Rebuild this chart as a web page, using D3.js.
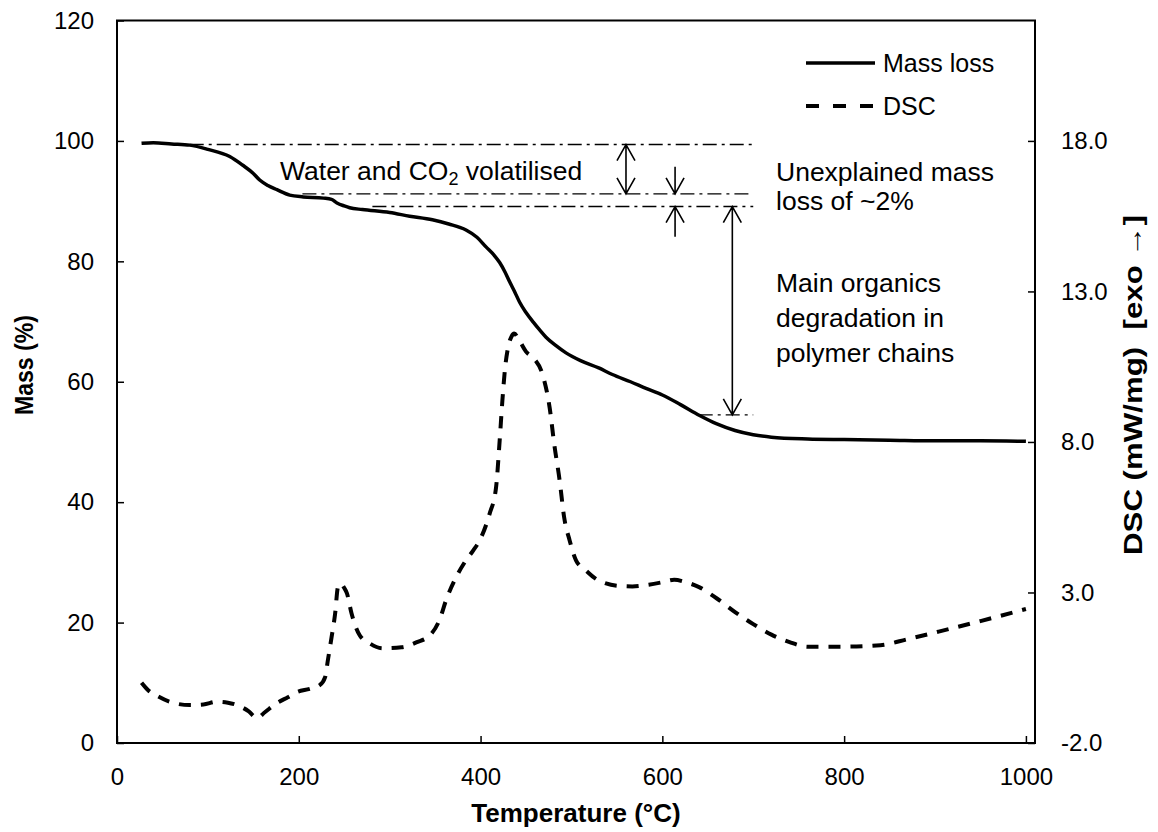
<!DOCTYPE html>
<html>
<head>
<meta charset="utf-8">
<script src="https://cdn.jsdelivr.net/npm/d3@7"></script>
<style>
  body { margin: 0; background: #fff; }
  svg text { font-family: Arial, "Liberation Sans", sans-serif; }
</style>
</head>
<body>
<svg class="canvas"></svg>
<script>
// Setting constants
const wWidth = 1158
const wHeight = 832

// Mass loss curve (Temperature °C, Mass %)
const massTemp = [27, 40, 60, 80, 100, 124, 138, 150, 157, 166, 176, 190, 205, 227, 236, 242, 250, 256, 270, 300,
    322, 347, 365, 384, 396, 406, 415, 421, 427, 432, 438, 443, 450, 458, 465, 472, 483, 494, 510, 530, 545, 565,
    582, 600, 620, 641, 660, 680, 700, 720, 760, 800, 850, 900, 950, 1000];
const massVal = [99.6, 99.7, 99.5, 99.3, 98.6, 97.4, 96.0, 94.6, 93.5, 92.6, 91.9, 91.0, 90.7, 90.5, 90.3, 89.7, 89.2, 88.9, 88.6, 88.1,
    87.5, 86.9, 86.2, 85.2, 84.0, 82.4, 81.0, 79.8, 78.2, 76.6, 74.8, 73.2, 71.5, 69.9, 68.6, 67.4, 66.0, 64.8, 63.5, 62.3, 61.2, 60.0,
    58.9, 57.8, 56.2, 54.4, 53.0, 51.9, 51.2, 50.8, 50.5, 50.4, 50.3, 50.2, 50.2, 50.1];

// DSC curve (Temperature °C, mW/mg)
const dscTemp = [27, 34, 45, 58, 80, 95, 110, 122, 132, 145, 154, 163, 176, 188, 198, 212, 223, 229, 232, 236,
    240, 243, 246, 250, 253, 258, 267, 278, 292, 313, 330, 345, 355, 362, 373, 384, 392, 399, 410, 417,
    421, 424, 427, 430, 434, 437, 443, 450, 459, 468, 476, 481, 487, 492, 498, 505, 516, 527, 538, 552,
    567, 585, 600, 613, 626, 641, 660, 680, 700, 720, 740, 760, 800, 840, 870, 904, 950, 1000];
const dscVal = [0.0, -0.24, -0.45, -0.63, -0.74, -0.72, -0.63, -0.66, -0.74, -0.95, -1.17, -0.97, -0.67, -0.48, -0.31, -0.2, -0.08, 0.19, 0.75, 1.5,
    2.3, 3.17, 3.3, 3.15, 2.97, 2.31, 1.58, 1.31, 1.15, 1.18, 1.35, 1.6, 2.1, 2.74, 3.5, 4.07, 4.4, 4.73, 5.62, 6.48,
    8.04, 9.37, 10.46, 11.1, 11.5, 11.6, 11.35, 11.0, 10.76, 10.26, 9.14, 7.94, 6.72, 5.49, 4.73, 4.07, 3.73, 3.45, 3.3, 3.22,
    3.2, 3.26, 3.34, 3.42, 3.34, 3.17, 2.8, 2.35, 1.95, 1.6, 1.35, 1.2, 1.2, 1.25, 1.45, 1.7, 2.05, 2.45];

// Tick labels
const xTicks = [0, 200, 400, 600, 800, 1000];
const massTicks = [0, 20, 40, 60, 80, 100, 120];
const dscTicks = [-2, 3, 8, 13, 18];

// Annotation guide lines: [from °C, to °C, mass %]
const guideLines = [[80, 700, 99.4], [204, 700, 91.2], [281, 700, 89.1], [640, 700, 54.5]];
// Arrows: [°C, from mass, to mass, head at start, head at end]
const arrows = [
    [560, 99.4, 91.2, true, true],
    [614, 95.7, 91.2, false, true],
    [614, 84.1, 89.1, false, true],
    [677, 89.1, 54.5, true, true]
];

// Plot area
const plot = {left: 117, right: 1035, top: 20.5, bottom: 743};

const svg = d3.select('.canvas')
    .attr('width', wWidth)
    .attr('height', wHeight);

// Scales
const xScale = d3.scaleLinear().domain([0, 1010]).range([plot.left, plot.right]);
const yMass = d3.scaleLinear().domain([0, 120]).range([plot.bottom, plot.top]);
const yDsc = d3.scaleLinear().domain([-2, 22]).range([plot.bottom, plot.top]);

// Axes, ticks pointing inwards
const xAxisGroup = svg.append('g').attr('transform', `translate(0, ${plot.bottom})`)
    .call(d3.axisBottom(xScale).tickValues(xTicks).tickFormat(d => String(d))
        .tickSizeInner(-7).tickSizeOuter(0).tickPadding(25));
const yAxisGroup = svg.append('g').attr('transform', `translate(${plot.left}, 0)`)
    .call(d3.axisLeft(yMass).tickValues(massTicks).tickFormat(d => String(d))
        .tickSizeInner(-7).tickSizeOuter(0).tickPadding(23));
const y2AxisGroup = svg.append('g').attr('transform', `translate(${plot.right}, 0)`)
    .call(d3.axisRight(yDsc).tickValues(dscTicks).tickFormat(d => d.toFixed(1))
        .tickSizeInner(-7).tickSizeOuter(0).tickPadding(26));

[xAxisGroup, yAxisGroup, y2AxisGroup].forEach(g => {
    g.select('.domain').remove();
    g.selectAll('.tick line').attr('stroke', '#000').attr('stroke-width', 1.5);
    g.selectAll('.tick text').attr('fill', '#000').style('font-size', '24px');
});

// Frame
svg.append('rect')
    .attr('x', plot.left).attr('y', plot.top)
    .attr('width', plot.right - plot.left).attr('height', plot.bottom - plot.top)
    .attr('fill', 'none').attr('stroke', '#000').attr('stroke-width', 2);

// Axis titles
svg.append('text')
    .attr('x', (plot.left + plot.right) / 2).attr('y', 822)
    .attr('text-anchor', 'middle')
    .style('font-size', '26px').style('font-weight', 'bold')
    .text('Temperature (°C)');
svg.append('text')
    .attr('transform', 'translate(33, 365) rotate(-90)')
    .attr('text-anchor', 'middle')
    .attr('textLength', 100).attr('lengthAdjust', 'spacingAndGlyphs')
    .style('font-size', '25px').style('font-weight', 'bold')
    .text('Mass (%)');
svg.append('text')
    .attr('transform', 'translate(1142, 385) rotate(-90)')
    .attr('text-anchor', 'middle')
    .attr('textLength', 340).attr('lengthAdjust', 'spacingAndGlyphs')
    .style('font-size', '25px').style('font-weight', 'bold')
    .style('white-space', 'pre')
    .text('DSC (mW/mg)  [exo →]');

// Lines
const massLine = d3.line()
    .x(d => xScale(d[0]))
    .y(d => yMass(d[1]))
    .curve(d3.curveMonotoneX);
const dscLine = d3.line()
    .x(d => xScale(d[0]))
    .y(d => yDsc(d[1]))
    .curve(d3.curveMonotoneX);

svg.append('path')
    .datum(d3.zip(massTemp, massVal))
    .attr('d', massLine)
    .attr('fill', 'none').attr('stroke', '#000').attr('stroke-width', 3.5)
    .attr('stroke-linejoin', 'round');

svg.append('path')
    .datum(d3.zip(dscTemp, dscVal))
    .attr('d', dscLine)
    .attr('fill', 'none').attr('stroke', '#000').attr('stroke-width', 4)
    .attr('stroke-dasharray', '12,10');

// Dash-dot guide lines
svg.selectAll('line.guide')
    .data(guideLines)
    .enter()
    .append('line')
    .attr('class', 'guide')
    .attr('x1', d => xScale(d[0])).attr('x2', d => xScale(d[1]))
    .attr('y1', d => yMass(d[2])).attr('y2', d => yMass(d[2]))
    .attr('stroke', '#000').attr('stroke-width', 1.4)
    .attr('stroke-dasharray', '14,5,3,5');

// Arrows with open heads
const headLen = 16, headHalf = 9;
const arrowPath = d => {
    const x = xScale(d[0]), y1 = yMass(d[1]), y2 = yMass(d[2]);
    const dir = y2 > y1 ? 1 : -1;
    let p = `M${x},${y1}L${x},${y2}`;
    if (d[3]) p += `M${x - headHalf},${y1 + dir * headLen}L${x},${y1}L${x + headHalf},${y1 + dir * headLen}`;
    if (d[4]) p += `M${x - headHalf},${y2 - dir * headLen}L${x},${y2}L${x + headHalf},${y2 - dir * headLen}`;
    return p;
};
svg.selectAll('path.arrow')
    .data(arrows)
    .enter()
    .append('path')
    .attr('class', 'arrow')
    .attr('d', arrowPath)
    .attr('fill', 'none').attr('stroke', '#000').attr('stroke-width', 1.6);

// Annotation texts
const note = svg.append('g').style('font-size', '26.5px').attr('fill', '#000');
const water = note.append('text').attr('x', 280).attr('y', 180);
water.append('tspan').text('Water and CO');
water.append('tspan').attr('dy', 5).style('font-size', '18px').text('2');
water.append('tspan').attr('dy', -5).text(' volatilised');

note.append('text').attr('x', 776).attr('y', 181).text('Unexplained mass');
note.append('text').attr('x', 776).attr('y', 210).text('loss of ~2%');
['Main organics', 'degradation in', 'polymer chains'].forEach((t, i) => {
    note.append('text').attr('x', 776).attr('y', 292 + i * 35).text(t);
});

// Legend
const legend = svg.append('g');
legend.append('line')
    .attr('x1', 806).attr('x2', 875).attr('y1', 63).attr('y2', 63)
    .attr('stroke', '#000').attr('stroke-width', 3.5);
legend.append('line')
    .attr('x1', 806).attr('x2', 875).attr('y1', 106).attr('y2', 106)
    .attr('stroke', '#000').attr('stroke-width', 4).attr('stroke-dasharray', '13,14');
legend.append('text').attr('x', 883).attr('y', 72).style('font-size', '25px').text('Mass loss');
legend.append('text').attr('x', 883).attr('y', 115).style('font-size', '25px').text('DSC');
</script>
</body>
</html>
